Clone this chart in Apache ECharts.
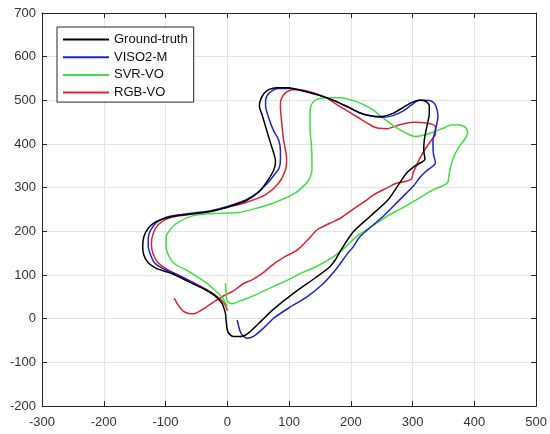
<!DOCTYPE html>
<html><head><meta charset="utf-8">
<script src="https://cdn.jsdelivr.net/npm/echarts@6/dist/echarts.min.js"></script>
<style>html,body{margin:0;padding:0;background:#fff}#c{width:550px;height:434px}</style>
</head><body><div id="c"></div>
<script>
var seriesNames = ["Ground-truth", "VISO2-M", "SVR-VO", "RGB-VO"];
var xTicks = [-300,-200,-100,0,100,200,300,400,500];
var yTicks = [-200,-100,0,100,200,300,400,500,600,700];

var gtX = [-3,0,4,10,20,27,35,55,75,107,145,166,175,183,204,231,260,274,290,305,320,318,319,323,327,327,322,312,300,285,268,250,232,215,195,172,145,118,99,80,68,59,53,52,56,63,70,76,78,75,66,51,30,0,-25,-55,-78,-100,-118,-128,-135,-137,-135,-128,-115,-100,-89,-57,-25,-9,-3];
var gtY = [12,-26,-36,-41,-41,-39,-32,-5,22,58,96,119,135,155,199,234,272,300,333,351,365,385,410,440,470,488,497,500,496,484,470,463,465,471,485,500,513,523,529,529,525,515,498,486,468,435,402,375,360,340,318,290,270,255,246,240,237,230,220,207,188,165,145,128,115,108,103,81,58,36,12];

var visoX = [16,21,26,32,43,60,75,100,129,155,177,193,204,215,252,279,301,311,322,337,334,333,333,337,341,338,332,320,310,299,285,268,250,232,215,195,172,145,118,100,84,75,66,62,62,67,75,83,86,86,84,78,65,50,30,0,-25,-55,-78,-100,-115,-124,-128,-128,-124,-118,-105,-85,-60,-40,-22,-12];
var visoY = [-3,-30,-40,-45,-40,-20,1,25,50,80,115,146,165,188,234,272,303,322,338,357,375,395,410,432,463,486,497,500,500,490,476,465,461,464,471,485,500,513,523,527,527,524,514,501,487,460,430,410,385,364,345,333,310,290,272,257,248,242,238,232,220,203,185,165,145,128,115,103,86,70,55,42];

var svrX = [-3,-2,-1,3,8,18,35,51,75,100,118,145,172,190,209,235,258,285,306,333,350,357,359,363,368,376,385,389,386,378,365,349,335,320,306,292,278,263,250,236,222,209,195,182,165,150,140,135,134,134,136,137,137,133,126,107,75,45,18,-24,-55,-78,-92,-99,-99,-94,-84,-67,-50,-35,-20,-8,0];
var svrY = [81,60,43,36,34,39,48,58,74,90,103,120,142,162,188,212,234,255,272,295,305,312,330,355,375,395,412,425,437,443,444,436,428,421,417,423,434,448,462,478,489,497,503,506,506,504,498,485,463,432,400,370,340,320,307,285,265,252,243,241,236,222,205,185,165,142,124,112,97,83,65,48,28];

var rgbX = [-86,-80,-72,-63,-55,-46,-35,-20,-5,8,26,40,55,75,95,113,130,145,165,183,205,226,236,255,274,288,298,301,306,312,322,330,337,337,322,301,279,258,245,236,209,182,156,130,115,104,94,87,86,88,91,95,96,94,83,62,30,0,-25,-55,-80,-97,-112,-120,-123,-120,-113,-100,-80,-57,-35,-18,-5,0];
var rgbY = [47,32,18,12,11,16,26,40,53,62,80,89,102,125,143,157,180,203,218,230,252,272,283,297,310,314,320,335,350,368,392,408,423,440,448,450,444,435,436,440,463,486,509,521,525,524,517,502,486,450,410,380,364,340,310,284,266,255,246,240,235,229,215,195,170,148,130,115,100,84,68,52,35,18];

var colors = ['#000000', '#2222cc', '#3ee03e', '#dd2233'];
var xs = [gtX, visoX, svrX, rgbX];
var ys = [gtY, visoY, svrY, rgbY];

function zip(a, b) { return a.map(function (v, i) { return [v, b[i]]; }); }

var font = 'Liberation Sans, Arial, Helvetica, sans-serif';
var axisCol = '#262626';

var series = seriesNames.map(function (n, i) {
  return {
    name: n, type: 'line', data: zip(xs[i], ys[i]),
    symbol: 'none', smooth: 0.25,
    lineStyle: { color: colors[i], width: 1.5 },
    itemStyle: { color: colors[i] },
    z: 10 - i
  };
});

var chart = echarts.init(document.getElementById('c'), null, { renderer: 'canvas' });
chart.setOption({
  animation: false,
  backgroundColor: '#ffffff',
  grid: { left: 42, right: 11, top: 13, bottom: 28, containLabel: false },
  legend: {
    data: seriesNames, orient: 'vertical', left: 57, top: 27,
    itemWidth: 46, itemHeight: 14, itemGap: 4.7,
    padding: [6, 6, 3, 5],
    borderColor: axisCol, borderWidth: 1, backgroundColor: '#fff',
    itemStyle: { opacity: 0 },
    lineStyle: { width: 2 },
    textStyle: { fontFamily: font, fontSize: 13, color: '#111' }
  },
  xAxis: [{
    type: 'value', min: xTicks[0], max: xTicks[xTicks.length - 1], interval: 100,
    position: 'bottom',
    axisLine: { show: true, onZero: false, lineStyle: { color: axisCol, width: 1 } },
    axisTick: { show: true, inside: true, length: 5, lineStyle: { color: axisCol } },
    axisLabel: { fontFamily: font, fontSize: 13, color: '#333', margin: 10 },
    splitLine: { show: true, lineStyle: { color: '#e4e4e4', width: 1 } }
  }, {
    type: 'value', min: xTicks[0], max: xTicks[xTicks.length - 1], interval: 100,
    position: 'top',
    axisLine: { show: true, onZero: false, lineStyle: { color: axisCol, width: 1 } },
    axisTick: { show: true, inside: true, length: 5, lineStyle: { color: axisCol } },
    axisLabel: { show: false }, splitLine: { show: false }
  }],
  yAxis: [{
    type: 'value', min: yTicks[0], max: yTicks[yTicks.length - 1], interval: 100,
    position: 'left',
    axisLine: { show: true, onZero: false, lineStyle: { color: axisCol, width: 1 } },
    axisTick: { show: true, inside: true, length: 5, lineStyle: { color: axisCol } },
    axisLabel: { fontFamily: font, fontSize: 13, color: '#333', margin: 6 },
    splitLine: { show: true, lineStyle: { color: '#e4e4e4', width: 1 } }
  }, {
    type: 'value', min: yTicks[0], max: yTicks[yTicks.length - 1], interval: 100,
    position: 'right',
    axisLine: { show: true, onZero: false, lineStyle: { color: axisCol, width: 1 } },
    axisTick: { show: true, inside: true, length: 5, lineStyle: { color: axisCol } },
    axisLabel: { show: false }, splitLine: { show: false }
  }],
  series: series
});
</script></body></html>
